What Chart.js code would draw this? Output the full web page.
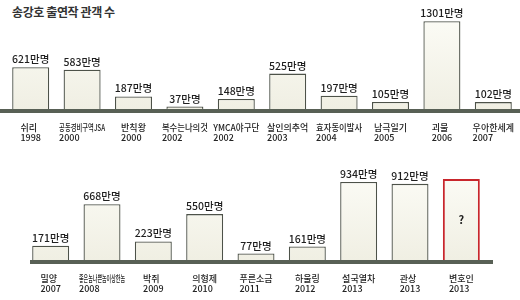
<!DOCTYPE html>
<html>
<head>
<meta charset="utf-8">
<script src="https://cdn.jsdelivr.net/npm/chart.js@4/dist/chart.umd.min.js"></script>
<style>
  html, body { margin: 0; padding: 0; background: #ffffff; }
  #wrap { position: relative; width: 520px; height: 300px; overflow: hidden; background: #fff; }
  #title { position: absolute; left: 12px; top: 3px; font: bold 12px "Noto Sans CJK KR", sans-serif; color: #333; letter-spacing: -0.4px; }
  canvas { position: absolute; left: 0; }
  #top { top: 0; }
  #bottom { top: 150px; }
</style>
</head>
<body>
<div id="wrap">
  <div id="title">송강호 출연작 관객 수</div>
  <canvas id="top" width="520" height="150"></canvas>
  <canvas id="bottom" width="520" height="150"></canvas>
</div>
<script>
// ---- data (audience, 만명) ----
const topNames = ['쉬리','공동경비구역JSA','반칙왕','복수는나의것','YMCA야구단','살인의추억','효자동이발사','남극일기','괴물','우아한세계'];
const topYears = ['1998','2000','2000','2002','2002','2003','2004','2005','2006','2007'];
const topValues = [621, 583, 187, 37, 148, 525, 197, 105, 1301, 102];

const bottomNames = ['밀양','좋은놈나쁜놈이상한놈','박쥐','의형제','푸른소금','하울링','설국열차','관상','변호인'];
const bottomYears = ['2007','2008','2009','2010','2011','2012','2013','2013','2013'];
const bottomValues = [171, 668, 223, 550, 77, 161, 934, 912, 970]; // last one: unknown ("?"), drawn height
const bottomKnown = [true, true, true, true, true, true, true, true, false];

const unit = '만명';
const FONT = '"Noto Sans CJK KR", "Noto Sans", sans-serif';

function barFill(ctx, chartArea) {
  const g = ctx.createLinearGradient(0, chartArea.top, 0, chartArea.bottom);
  g.addColorStop(0, '#fbfbf5');
  g.addColorStop(1, '#f0efe3');
  return g;
}

const decorPlugin = {
  id: 'decor',
  afterDatasetsDraw(chart, args, opts) {
    const ctx = chart.ctx;
    const area = chart.chartArea;
    const xs = chart.scales.x;
    const meta = chart.getDatasetMeta(0);
    // baseline band
    ctx.save();
    ctx.fillStyle = '#586055';
    ctx.fillRect(opts.baseLeft(area), area.bottom, opts.baseRight(area) - opts.baseLeft(area), 4);
    // value labels
    ctx.fillStyle = '#1f1f1f';
    ctx.textAlign = 'center';
    meta.data.forEach((bar, i) => {
      if (opts.known[i]) {
        ctx.font = '500 10.5px ' + FONT;
        ctx.textBaseline = 'alphabetic';
        ctx.fillText(opts.values[i] + unit, bar.x, bar.y - 4);
      } else {
        ctx.font = 'bold 11px ' + FONT;
        ctx.textBaseline = 'middle';
        ctx.fillText('?', bar.x, (bar.y + area.bottom) / 2);
      }
    });
    // category labels (name + year, left-aligned block centred on the bar)
    ctx.fillStyle = '#222';
    ctx.textBaseline = 'middle';
    ctx.textAlign = 'left';
    ctx.font = '500 9px ' + FONT;
    const maxW = 46;
    opts.names.forEach((name, i) => {
      const x = xs.getPixelForValue(i);
      const nw = Math.min(ctx.measureText(name).width, maxW);
      const yw = ctx.measureText(opts.years[i]).width;
      const left = x - Math.max(nw, yw) / 2;
      ctx.fillText(name, left, area.bottom + 18.5, maxW);
      ctx.fillText(opts.years[i], left, area.bottom + 29);
    });
    ctx.restore();
  }
};

function makeChart(id, names, years, values, known, yMax, padding, baseLeft, baseRight) {
  return new Chart(document.getElementById(id), {
    type: 'bar',
    data: {
      labels: names,
      datasets: [{
        data: values,
        backgroundColor: (c) => c.chart.chartArea ? barFill(c.chart.ctx, c.chart.chartArea) : '#f6f5ea',
        borderColor: known.map(k => k ? '#4d5249' : '#c8262c'),
        borderWidth: known.map(k => k ? {top: 1.3, left: 1.3, right: 1.3, bottom: 0} : {top: 2, left: 2, right: 2, bottom: 0}),
        borderSkipped: false,
        categoryPercentage: 1,
        barPercentage: 0.72
      }]
    },
    options: {
      responsive: false,
      devicePixelRatio: 1,
      animation: false,
      layout: { padding: padding },
      plugins: {
        legend: { display: false },
        tooltip: { enabled: false },
        decor: { names, years, values, known, baseLeft, baseRight }
      },
      scales: {
        x: { display: false, offset: true },
        y: { display: false, min: 0, max: yMax }
      }
    },
    plugins: [decorPlugin]
  });
}

makeChart('top', topNames, topYears, topValues, topValues.map(() => true), 1320,
  { left: 5, right: 1, top: 20, bottom: 41 },
  (a) => 0, (a) => 520);

makeChart('bottom', bottomNames, bottomYears, bottomValues, bottomKnown, 1000,
  { left: 25, right: 33, top: 26.5, bottom: 40 },
  (a) => a.left + 5, (a) => a.right + 6);
</script>
</body>
</html>
